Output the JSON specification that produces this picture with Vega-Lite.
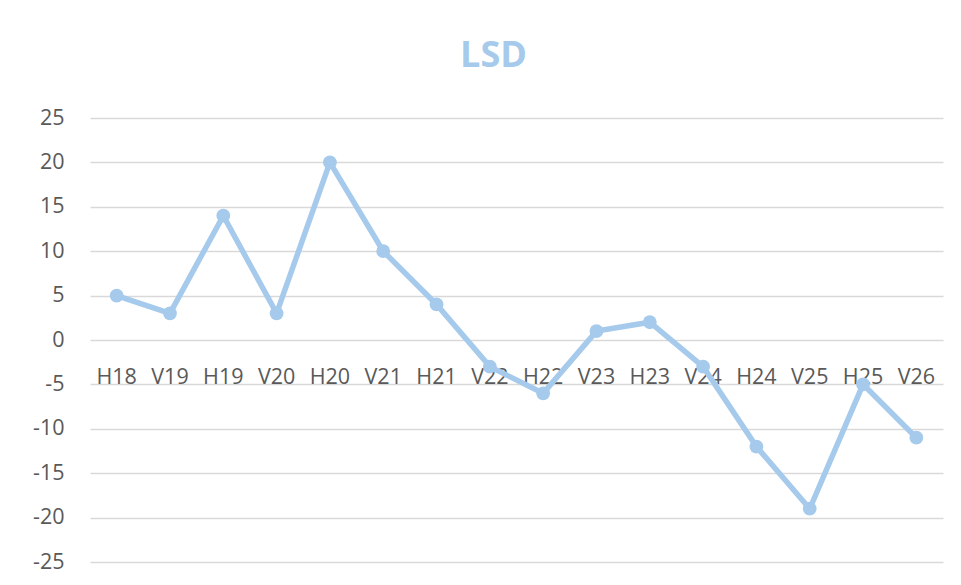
{
  "$schema": "https://vega.github.io/schema/vega-lite/v6.json",
  "width": 853,
  "height": 444,
  "autosize": {"type": "none"},
  "padding": {"left": 90, "top": 118, "right": 18, "bottom": 23},
  "background": "white",
  "title": {
    "text": "LSD",
    "font": "Open Sans",
    "fontSize": 36,
    "fontWeight": "bold",
    "color": "#A6CAEC",
    "anchor": "middle",
    "dx": -23,
    "offset": 32
  },
  "config": {
    "view": {"stroke": null},
    "font": "Open Sans"
  },
  "data": {
    "values": [
      {"period": "H18", "value": 5},
      {"period": "V19", "value": 3},
      {"period": "H19", "value": 14},
      {"period": "V20", "value": 3},
      {"period": "H20", "value": 20},
      {"period": "V21", "value": 10},
      {"period": "H21", "value": 4},
      {"period": "V22", "value": -3},
      {"period": "H22", "value": -6},
      {"period": "V23", "value": 1},
      {"period": "H23", "value": 2},
      {"period": "V24", "value": -3},
      {"period": "H24", "value": -12},
      {"period": "V25", "value": -19},
      {"period": "H25", "value": -5},
      {"period": "V26", "value": -11}
    ]
  },
  "mark": {
    "type": "line",
    "color": "#A6CAEC",
    "strokeWidth": 5.5,
    "point": {"filled": true, "size": 190, "color": "#A6CAEC", "opacity": 1}
  },
  "encoding": {
    "x": {
      "field": "period",
      "type": "nominal",
      "sort": null,
      "scale": {"type": "band", "paddingInner": 0, "paddingOuter": 0},
      "axis": {
        "title": null,
        "labelAngle": 0,
        "domain": false,
        "ticks": false,
        "grid": false,
        "offset": -222,
        "labelPadding": 26,
        "labelFontSize": 21.5,
        "labelColor": "#595959",
        "labelFont": "Open Sans"
      }
    },
    "y": {
      "field": "value",
      "type": "quantitative",
      "scale": {"domain": [-25, 25], "nice": false, "zero": false},
      "axis": {
        "title": null,
        "values": [-25, -20, -15, -10, -5, 0, 5, 10, 15, 20, 25],
        "labelExpr": "toString(datum.value)",
        "domain": false,
        "ticks": false,
        "labelPadding": 26,
        "labelFontSize": 21.5,
        "labelColor": "#595959",
        "labelFont": "Open Sans",
        "gridColor": "#D9D9D9",
        "gridWidth": 1.5
      }
    }
  }
}
